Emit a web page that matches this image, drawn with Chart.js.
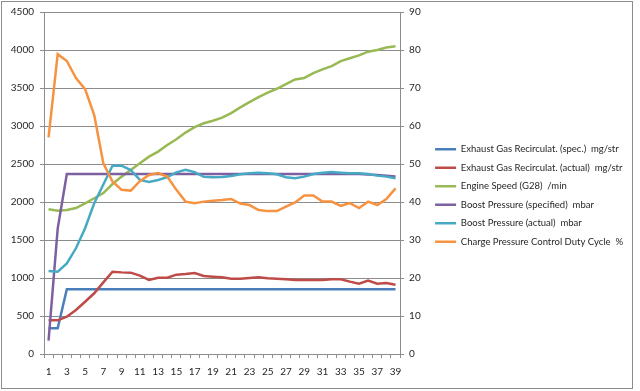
<!DOCTYPE html>
<html>
<head>
<meta charset="utf-8">
<script src="https://cdn.jsdelivr.net/npm/chart.js@4"></script>
<style>
  body { margin: 0; background: #fff; }
</style>
</head>
<body>
<canvas id="engineChart" width="640" height="391"></canvas>
<script>
const categories = [1, 2, 3, 4, 5, 6, 7, 8, 9, 10, 11, 12, 13, 14, 15, 16, 17, 18, 19, 20,
  21, 22, 23, 24, 25, 26, 27, 28, 29, 30, 31, 32, 33, 34, 35, 36, 37, 38, 39];

const egrSpec = [338, 338, 851, 851, 851, 851, 851, 851, 851, 851, 851, 851, 851, 851, 851, 851, 851, 851, 851, 851,
  851, 851, 851, 851, 851, 851, 851, 851, 851, 851, 851, 851, 851, 851, 851, 851, 851, 851, 851];
const egrActual = [443, 443, 491, 579, 688, 799, 943, 1083, 1074, 1070, 1031, 974, 1004, 1004, 1044, 1053, 1066, 1026, 1018, 1009,
  991, 991, 1000, 1009, 996, 991, 983, 974, 974, 974, 974, 983, 983, 952, 925, 965, 925, 934, 912];
const engineSpeed = [1904, 1885, 1895, 1920, 1983, 2049, 2118, 2237, 2334, 2421, 2509, 2597, 2663, 2750, 2825, 2913, 2985, 3036, 3070, 3110,
  3170, 3245, 3315, 3380, 3440, 3490, 3550, 3612, 3632, 3695, 3745, 3788, 3854, 3891, 3930, 3978, 4000, 4033, 4050];
const boostSpec = [175, 1650, 2369, 2369, 2369, 2369, 2369, 2369, 2369, 2369, 2369, 2369, 2369, 2369, 2369, 2369, 2369, 2369, 2369, 2369,
  2369, 2369, 2369, 2369, 2369, 2369, 2369, 2369, 2369, 2369, 2369, 2369, 2369, 2369, 2369, 2362, 2355, 2345, 2334];
const boostActual = [1092, 1083, 1193, 1391, 1654, 1983, 2230, 2478, 2478, 2421, 2290, 2264, 2290, 2327, 2390, 2425, 2393, 2332, 2327, 2330,
  2343, 2365, 2378, 2386, 2378, 2365, 2325, 2312, 2334, 2369, 2386, 2395, 2386, 2378, 2378, 2369, 2347, 2334, 2312];
const dutyCycle = [57.0, 78.9, 77.1, 72.6, 69.7, 62.9, 50.2, 45.4, 43.2, 43.0, 45.5, 47.1, 47.6, 46.7, 43.2, 40.1, 39.7, 40.1, 40.3, 40.5,
  40.8, 39.6, 39.2, 37.9, 37.6, 37.6, 38.8, 39.9, 41.7, 41.7, 40.1, 40.1, 39.0, 39.7, 38.4, 40.1, 39.2, 40.8, 43.6];

const seriesNames = [
  "Exhaust Gas Recirculat. (spec.)  mg/str",
  "Exhaust Gas Recirculat. (actual)  mg/str",
  "Engine Speed (G28)  /min",
  "Boost Pressure (specified)  mbar",
  "Boost Pressure (actual)  mbar",
  "Charge Pressure Control Duty Cycle  %"
];

const leftTicks = { min: 0, max: 4500, step: 500 };
const rightTicks = { min: 0, max: 90, step: 10 };

const axisGray = "#8c8c8c";
const textColor = "#262626";
const font = { family: "Lato", size: 10 };
const legendFont = { family: "Lato", size: 9.5 };

function series(i, data, color, axis) {
  return {
    label: seriesNames[i],
    data: data,
    borderColor: color,
    backgroundColor: color,
    borderWidth: 2.5,
    pointRadius: 0,
    tension: 0,
    fill: false,
    yAxisID: axis,
    order: 5 - i // later series drawn on top, like Excel
  };
}

// work out how wide the legend will be so it isn't clipped
const ctx = document.getElementById("engineChart").getContext("2d");
ctx.font = legendFont.size + "px " + legendFont.family;
let textW = 0;
seriesNames.forEach(n => { textW = Math.max(textW, ctx.measureText(n).width); });
const legendLeft = 426;
const legendPad = 9;
const legendWidth = Math.ceil(legendPad + 21 + legendFont.size / 2 + textW + 10);
const padRight = Math.max(0, 640 - legendLeft - legendWidth);

// outer grey frame like the Excel chart area
const frame = {
  id: "frame",
  beforeDraw(chart) {
    const c = chart.ctx;
    c.save();
    c.fillStyle = "#ffffff";
    c.fillRect(0, 0, chart.width, chart.height);
    c.restore();
  },
  afterDraw(chart) {
    const c = chart.ctx;
    c.save();
    c.strokeStyle = axisGray;
    c.lineWidth = 1;
    c.strokeRect(1.5, 1.5, 631, 387);
    c.restore();
  }
};

new Chart(ctx, {
  type: "line",
  data: {
    labels: categories,
    datasets: [
      series(0, egrSpec, "#4a7ebb", "y"),
      series(1, egrActual, "#be4b48", "y"),
      series(2, engineSpeed, "#98b954", "y"),
      series(3, boostSpec, "#7d60a0", "y"),
      series(4, boostActual, "#46aac5", "y"),
      series(5, dutyCycle, "#f69240", "y1")
    ]
  },
  options: {
    responsive: false,
    animation: false,
    layout: { padding: { left: 0, top: 0, right: padRight, bottom: 0 } },
    plugins: {
      tooltip: { enabled: false },
      legend: {
        position: "right",
        maxWidth: legendWidth,
        labels: {
          usePointStyle: true,
          pointStyle: "line",
          pointStyleWidth: 21,
          padding: legendPad,
          color: textColor,
          font: legendFont,
          sort: (a, b) => a.datasetIndex - b.datasetIndex
        }
      }
    },
    scales: {
      x: {
        type: "category",
        offset: true,
        grid: {
          offset: true,
          drawOnChartArea: false,
          drawTicks: true,
          tickLength: 4,
          color: axisGray
        },
        border: { color: axisGray },
        ticks: {
          autoSkip: false,
          maxRotation: 0,
          padding: 8,
          color: textColor,
          font: font,
          callback: (v, i) => (i % 2 === 0 ? categories[i] : "")
        },
        afterFit: (s) => { s.height = 37; }
      },
      y: {
        position: "left",
        min: leftTicks.min,
        max: leftTicks.max,
        ticks: {
          stepSize: leftTicks.step,
          padding: 6,
          color: textColor,
          font: font,
          callback: (v) => String(v)
        },
        grid: { color: axisGray, tickLength: 4 },
        border: { color: axisGray },
        afterFit: (s) => { s.width = 44; s.paddingTop = 12; }
      },
      y1: {
        position: "right",
        min: rightTicks.min,
        max: rightTicks.max,
        ticks: { stepSize: rightTicks.step, padding: 5, color: textColor, font: font },
        grid: { drawOnChartArea: false, color: axisGray, tickLength: 4 },
        border: { color: axisGray },
        afterFit: (s) => { s.width = 26; }
      }
    }
  },
  plugins: [frame]
});
</script>
</body>
</html>
